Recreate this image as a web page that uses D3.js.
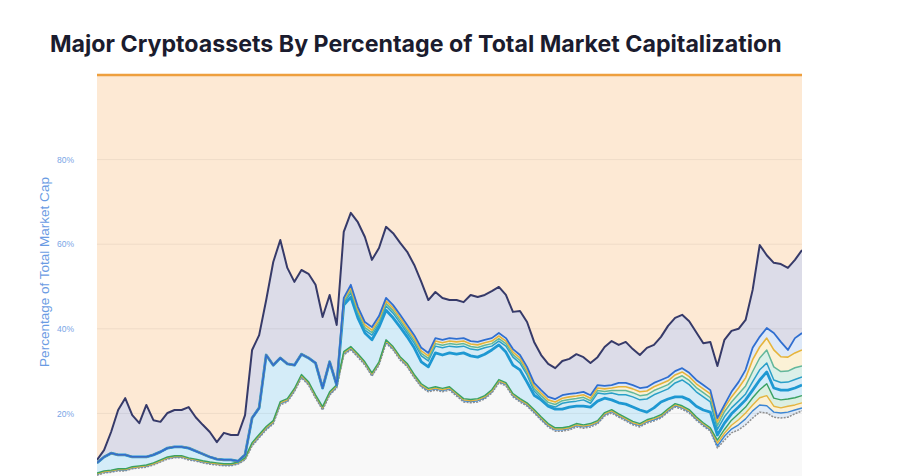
<!DOCTYPE html>
<html><head><meta charset="utf-8">
<script src="https://cdn.jsdelivr.net/npm/d3@7/dist/d3.min.js"></script>
<style>html,body{margin:0;padding:0;background:#fff;}svg{display:block;}</style>
</head><body>
<svg id="chart" width="903" height="476"></svg>
<script>
// ---- data (cumulative % of total market cap) ----
const titleText = "Major Cryptoassets By Percentage of Total Market Capitalization";
const yTitle = "Percentage of Total Market Cap";
const yTicks = [20, 40, 60, 80];

// top of the stack below Bitcoin (everything except BTC)
const navy = [9.0,11.3,15.6,20.8,23.6,19.6,17.7,22.0,18.4,18.0,
 20.1,20.8,20.8,21.5,19.1,17.3,15.6,13.2,15.4,14.9,
 14.9,19.6,35.0,38.5,46.8,55.8,61.0,54.4,51.1,53.9,
 53.0,50.4,42.8,48.0,40.9,62.9,67.4,65.2,61.7,56.3,
 59.1,64.1,62.6,60.3,58.2,55.1,51.1,46.8,48.7,47.3,
 46.8,46.8,46.3,48.0,47.5,48.0,48.9,49.9,48.0,44.0,
 44.2,41.6,36.9,33.8,31.7,30.7,32.4,32.9,34.0,33.3,
 31.9,33.3,35.7,37.1,36.2,36.9,35.2,33.8,35.5,36.2,
 38.1,40.7,42.6,43.3,41.8,39.2,36.6,36.9,31.2,37.4,
 39.5,40.0,42.1,49.2,59.8,57.4,55.6,55.3,54.4,56.3,
 58.6];
// top of the small-cap cluster (below Ethereum)
const clusterTop = [8.3,9.7,10.6,10.2,10.2,9.7,9.7,9.7,10.2,10.9,
 11.8,12.1,12.1,11.8,11.1,10.4,9.7,9.2,9.0,9.0,
 8.7,10.2,18.9,21.3,33.8,31.4,33.1,31.7,31.4,34.0,
 33.1,31.9,26.0,32.2,26.7,47.3,50.4,45.2,41.6,40.4,
 43.0,47.3,45.6,43.3,40.9,38.5,35.5,34.3,37.8,37.4,
 37.8,37.6,37.8,37.1,36.9,37.4,37.8,39.0,37.8,35.2,
 33.8,31.0,27.2,25.5,23.9,23.4,24.3,24.6,24.8,25.1,
 24.3,26.7,26.5,26.7,27.2,27.2,26.7,26.0,26.2,27.2,
 27.9,28.6,30.0,30.7,29.6,27.9,26.7,25.5,18.9,22.0,
 25.1,27.4,30.3,35.5,38.1,40.2,39.0,36.9,35.0,37.8,
 39.0];
// top of the large light-blue band
const bandTop = [8.3,9.7,10.6,10.2,10.2,9.7,9.7,9.7,10.2,10.9,
 11.8,12.1,12.1,11.8,11.1,10.4,9.7,9.2,9.0,9.0,
 8.7,10.2,18.9,21.3,33.8,31.4,33.1,31.7,31.4,34.0,
 33.1,31.9,26.0,32.2,26.7,45.6,47.5,42.6,39.0,37.4,
 40.4,44.4,42.6,40.4,38.1,35.5,32.2,31.0,34.3,33.8,
 34.3,34.0,34.3,33.6,33.3,34.0,35.0,36.2,34.5,31.4,
 30.3,27.4,24.3,23.2,21.7,21.0,21.0,21.5,21.7,21.7,
 21.5,22.9,23.6,23.2,22.5,22.2,21.5,20.8,20.3,21.3,
 22.7,23.4,23.9,23.9,23.2,21.7,20.8,20.3,14.9,17.7,
 19.9,21.5,23.2,25.5,27.9,29.8,26.0,25.5,25.5,26.0,
 26.7];
// "others" (bottom layer)
const others = [5.4,5.9,6.1,6.4,6.4,6.9,7.1,7.3,7.8,8.5,
 9.2,9.5,9.5,9.0,8.7,8.3,8.0,7.8,7.6,7.6,
 8.0,9.0,12.3,14.2,16.1,17.5,22.0,22.7,25.1,28.4,
 26.7,23.6,20.8,24.3,26.0,33.8,35.0,33.3,31.4,28.8,
 31.4,36.6,35.0,32.6,31.0,28.4,26.2,25.1,25.5,25.1,
 25.5,24.1,22.7,22.5,22.7,23.4,24.8,27.2,26.5,23.9,
 22.7,21.7,20.1,18.4,16.8,15.8,15.8,16.1,16.8,16.5,
 16.8,17.5,19.4,20.1,19.1,18.2,17.3,16.8,17.7,18.2,
 18.9,20.3,21.5,21.0,20.1,18.4,17.0,15.8,11.8,13.7,
 15.4,16.1,17.3,18.9,20.3,20.1,19.1,18.9,19.1,19.9,
 20.6];
// thin layers stacked on top of "others"
const shareA = [0.2,0.2,0.2,0.2,0.2,0.2,0.2,0.2,0.2,0.2,
 0.2,0.2,0.2,0.2,0.2,0.2,0.2,0.2,0.2,0.2,
 0.2,0.2,0.3,0.3,0.3,0.3,0.3,0.3,0.3,0.3,
 0.3,0.3,0.3,0.3,0.3,0.3,0.3,0.3,0.3,0.3,
 0.3,0.3,0.3,0.3,0.3,0.3,0.3,0.3,0.3,0.3,
 0.3,0.3,0.3,0.3,0.3,0.3,0.3,0.3,0.3,0.3,
 0.3,0.3,0.3,0.3,0.3,0.3,0.3,0.3,0.3,0.3,
 0.3,0.3,0.3,0.3,0.3,0.3,0.3,0.3,0.3,0.3,
 0.3,0.3,0.3,0.3,0.3,0.3,0.3,0.3,0.5,0.9,
 0.9,1.2,1.4,1.7,1.7,1.7,1.2,1.2,1.2,0.9,
 0.7];
const shareB = [0.1,0.1,0.1,0.1,0.1,0.1,0.1,0.1,0.1,0.1,
 0.1,0.1,0.1,0.1,0.1,0.1,0.1,0.1,0.1,0.1,
 0.1,0.1,0.2,0.2,0.2,0.2,0.2,0.2,0.2,0.2,
 0.2,0.2,0.2,0.2,0.2,0.2,0.2,0.2,0.2,0.2,
 0.2,0.2,0.2,0.2,0.2,0.2,0.2,0.2,0.2,0.2,
 0.2,0.2,0.2,0.2,0.2,0.2,0.2,0.2,0.2,0.2,
 0.2,0.2,0.2,0.2,0.2,0.2,0.2,0.2,0.2,0.2,
 0.2,0.2,0.2,0.2,0.2,0.2,0.2,0.2,0.2,0.2,
 0.2,0.2,0.2,0.2,0.2,0.2,0.2,0.2,0.7,0.7,
 0.9,1.2,1.4,1.4,1.7,2.4,1.4,1.2,1.4,1.2,
 1.2];
const shareC = [0.2,0.2,0.2,0.2,0.2,0.2,0.2,0.2,0.2,0.2,
 0.2,0.2,0.2,0.2,0.2,0.2,0.2,0.2,0.2,0.2,
 0.2,0.2,0.3,0.3,0.3,0.3,0.3,0.3,0.3,0.3,
 0.3,0.3,0.3,0.3,0.3,0.3,0.3,0.3,0.3,0.3,
 0.3,0.3,0.3,0.3,0.3,0.3,0.3,0.3,0.3,0.3,
 0.3,0.3,0.3,0.3,0.3,0.3,0.3,0.3,0.3,0.3,
 0.3,0.3,0.3,0.3,0.3,0.3,0.3,0.3,0.3,0.3,
 0.3,0.3,0.3,0.3,0.3,0.3,0.3,0.3,0.3,0.3,
 0.3,0.3,0.3,0.3,0.3,0.3,0.3,0.3,0.7,0.9,
 1.2,1.4,1.4,1.7,1.9,2.8,1.9,1.9,1.7,1.7,
 1.7];
// thin layers hanging just under the cluster top
const shareD = [0,0,0,0,0,0,0,0,0,0,
 0,0,0,0,0,0,0,0,0,0,
 0,0,0,0,0,0,0,0,0,0,
 0,0,0,0,0,0.4,0.6,0.6,0.6,0.6,
 0.6,0.6,0.6,0.6,0.6,0.6,0.6,0.6,0.6,0.6,
 0.6,0.6,0.6,0.6,0.6,0.6,0.6,0.6,0.6,0.6,
 0.6,0.6,0.6,0.6,0.6,0.6,0.6,0.6,0.6,0.6,
 0.6,0.6,0.6,0.6,1.0,1.0,1.0,1.0,1.0,1.0,
 1.0,1.0,1.0,1.0,1.0,1.0,1.0,1.0,0.9,1.2,
 1.4,1.7,1.9,2.4,2.8,3.1,3.1,2.6,2.6,2.8,
 2.6];
const shareE = [0,0,0,0,0,0,0,0,0,0,
 0,0,0,0,0,0,0,0,0,0,
 0,0,0,0,0,0,0,0,0,0,
 0,0,0,0,0,0.4,0.6,0.6,0.6,0.6,
 0.6,0.6,0.6,0.6,0.6,0.6,0.6,0.6,0.6,0.6,
 0.6,0.6,0.6,0.6,0.6,0.6,0.6,0.6,0.6,0.6,
 0.6,0.6,0.6,0.6,0.6,0.6,0.6,0.6,0.6,0.6,
 0.6,0.6,0.6,0.6,0.9,0.9,0.9,0.9,0.9,0.9,
 0.9,0.9,0.9,0.9,0.9,0.9,0.9,0.9,0.9,0.9,
 1.2,1.4,1.9,2.8,2.6,2.8,4.0,3.5,3.3,3.5,
 3.8];
const shareF = [0,0,0,0,0,0,0,0,0,0,
 0,0,0,0,0,0,0,0,0,0,
 0,0,0,0,0,0,0,0,0,0,
 0,0,0,0,0,0.4,0.7,0.7,0.7,0.7,
 0.7,0.7,0.7,0.7,0.7,0.7,0.7,0.7,0.7,0.7,
 0.7,0.7,0.7,0.7,0.7,0.7,0.7,0.7,0.7,0.7,
 0.7,0.7,0.7,0.7,0.7,0.7,0.7,0.7,0.7,0.7,
 0.7,0.7,0.7,0.7,0.9,0.9,0.9,0.9,0.9,0.9,
 0.9,0.9,0.9,0.9,0.9,0.9,0.9,0.9,0.9,0.7,
 1.2,1.4,1.9,2.8,2.4,2.4,4.0,3.5,1.7,3.5,
 4.0];

// ---- build boundary table ----
const rows = navy.map((v, i) => {
  const b0 = others[i];
  const b1 = b0 + shareA[i];
  const b2 = b1 + shareB[i];
  const b3 = b2 + shareC[i];
  const b4 = bandTop[i];
  const b8 = clusterTop[i];
  const b7 = b8 - shareF[i];
  const b6 = b7 - shareE[i];
  const b5 = b6 - shareD[i];
  return {i, bz: 0, b0, b1, b2, b3, b4, b5, b6, b7, b8, b9: v, b10: 100};
});

const svg = d3.select('#chart');
const x = d3.scaleLinear().domain([0, navy.length - 1]).range([97, 802]);
const y = d3.scaleLinear().domain([0, 100]).range([498, 75]);

svg.append('defs').append('clipPath').attr('id', 'clip')
  .append('rect').attr('x', 97).attr('y', 74).attr('width', 705).attr('height', 430);

const plot = svg.append('g').attr('clip-path', 'url(#clip)');

const layers = [
  ['bz','b0','#f8f8f8'],
  ['b0','b1','#e1ebf6'],
  ['b1','b2','#fbf0d3'],
  ['b2','b3','#dcefe1'],
  ['b3','b4','#d4ecf8'],
  ['b4','b5','#d6ebf6'],
  ['b5','b6','#dbf0e8'],
  ['b6','b7','#fbf1d6'],
  ['b7','b8','#dde8f8'],
  ['b8','b9','#dcdce8'],
  ['b9','b10','#fde9d4']
];
layers.forEach(([lo, hi, c]) => {
  plot.append('path').datum(rows)
    .attr('fill', c)
    .attr('d', d3.area().x(d => x(d.i)).y0(d => y(d[lo])).y1(d => y(d[hi])));
});

// grid
plot.selectAll('line.grid').data(yTicks).enter().append('line')
  .attr('x1', 97).attr('x2', 802).attr('y1', d => y(d)).attr('y2', d => y(d))
  .attr('stroke', '#000').attr('stroke-opacity', 0.06);

const lines = [
  ['b0', '#8f8f8f', 1.5, '2,1.2'],
  ['b1', '#3c86d4', 1.4, null],
  ['b2', '#e4b43f', 1.4, null],
  ['b3', '#3aa163', 1.4, null],
  ['b4', '#1e98d2', 2.8, null],
  ['b5', '#2a9fc8', 1.5, null],
  ['b6', '#62b79b', 1.5, null],
  ['b7', '#e6b43b', 1.6, null],
  ['b8', '#2f6ed0', 1.8, null],
  ['b9', '#363a69', 2.0, null]
];
lines.forEach(([k, c, w, dash]) => {
  const p = plot.append('path').datum(rows)
    .attr('fill', 'none').attr('stroke', c).attr('stroke-width', w)
    .attr('stroke-linejoin', 'round')
    .attr('d', d3.line().x(d => x(d.i)).y(d => y(d[k])));
  if (dash) p.attr('stroke-dasharray', dash);
});

// top orange rule at 100%
svg.append('line').attr('x1', 97).attr('x2', 802).attr('y1', y(100)).attr('y2', y(100))
  .attr('stroke', '#ee9f3e').attr('stroke-width', 2.5);

// y axis
const yAxis = svg.append('g').attr('transform', 'translate(97,0)')
  .call(d3.axisLeft(y).tickValues(yTicks).tickFormat(d => d + '%').tickSize(0).tickPadding(23));
yAxis.select('.domain').remove();
yAxis.selectAll('text').attr('fill', '#7aa5e6').style('font-family', 'Arial, "Liberation Sans", sans-serif').style('font-size', '8.5px');

// y title
const yt = svg.append('text').attr('transform', 'translate(49,272) rotate(-90)')
  .attr('text-anchor', 'middle').attr('fill', '#6a9be3')
  .style('font-family', 'Arial, "Liberation Sans", sans-serif').style('font-size', '11px')
  .text(yTitle);
{
  const w = yt.node().getComputedTextLength();
  yt.style('font-size', (11 * 190 / w).toFixed(2) + 'px');
}

// title
const tt = svg.append('text').attr('x', 50).attr('y', 52).attr('fill', '#1b1c2e')
  .style('font-family', 'Inter, Roboto, Arial, sans-serif').style('font-weight', '700').style('font-size', '22px')
  .text(titleText);
{
  const w = tt.node().getComputedTextLength();
  tt.style('font-size', (22 * 732 / w).toFixed(2) + 'px');
}
</script>
</body></html>
